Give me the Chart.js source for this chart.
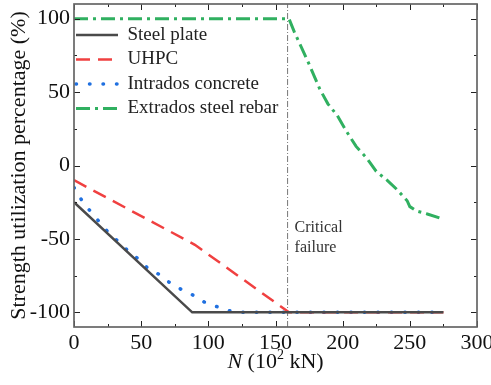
<!DOCTYPE html>
<html>
<head>
<meta charset="utf-8">
<script src="https://cdn.jsdelivr.net/npm/chart.js@4.4.1/dist/chart.umd.min.js"></script>
<style>
  html, body { margin: 0; padding: 0; background: #fff; }
  #wrap { width: 491px; height: 385px; position: relative; }
</style>
</head>
<body>
<div id="wrap"><canvas id="strengthChart"></canvas></div>
<script>
// ── Data ────────────────────────────────────────────────────
const xTickValues = [0, 50, 100, 150, 200, 250, 300];
const yTickValues = [-100, -50, 0, 50, 100];

const nSteel = [0, 88, 275];
const steelPlate = [-25, -100, -100];

const nUhpc = [0, 90, 160, 275];
const uhpc = [-10, -54, -100, -100];

const nIntrados = [0, 6, 12, 25, 32, 39, 47, 55, 63, 70, 79, 88, 97, 106, 116, 125, 275];
const intrados = [-15, -24, -31, -45, -51, -57, -63, -70, -74, -79, -84, -88, -93, -96, -99, -100, -100];

const nExtrados = [0, 160, 164, 168, 175, 183, 189, 196, 203, 210, 218, 225, 233, 240, 248, 250, 255, 263, 273];
const extrados = [100, 100, 91, 83, 69, 52, 42, 34, 23, 13, 5, -4, -10, -16, -24, -28, -31, -33, -36];

const nCritical = [159, 159];
const critical = [-110, 110];

const SERIF = '"Liberation Serif", "Times New Roman", serif';

const pts = (xs, ys) => xs.map((x, i) => ({ x: x, y: ys[i] }));

// frame + inward ticks on all four sides, like the Origin plot
const frameTicks = {
    id: 'frameTicks',
    afterDraw(chart) {
        const { ctx, chartArea: a, scales: { x, y } } = chart;
        ctx.save();
        ctx.strokeStyle = '#222';
        ctx.lineWidth = 1;
        const major = 6, minor = 3;
        for (let v = 0; v <= 300; v += 25) {
            const px = Math.round(x.getPixelForValue(v)) + 0.5;
            const len = v % 50 === 0 ? major : minor;
            ctx.beginPath();
            ctx.moveTo(px, a.bottom); ctx.lineTo(px, a.bottom - len);
            ctx.moveTo(px, a.top); ctx.lineTo(px, a.top + len);
            ctx.stroke();
        }
        for (let v = -100; v <= 100; v += 25) {
            const py = Math.round(y.getPixelForValue(v)) + 0.5;
            const len = v % 50 === 0 ? major : minor;
            ctx.beginPath();
            ctx.moveTo(a.left, py); ctx.lineTo(a.left + len, py);
            ctx.moveTo(a.right, py); ctx.lineTo(a.right - len, py);
            ctx.stroke();
        }
        ctx.strokeStyle = '#666';
        ctx.lineWidth = 1.7;
        ctx.strokeRect(a.left, a.top, a.right - a.left, a.bottom - a.top);

        // annotation next to the critical line
        ctx.fillStyle = '#333';
        ctx.font = '16px ' + SERIF;
        ctx.textBaseline = 'alphabetic';
        const cx = x.getPixelForValue(159) + 7;
        ctx.fillText('Critical', cx, 232);
        ctx.fillText('failure', cx, 252);

        // x title with italic N and superscript
        const mid = (a.left + a.right) / 2;
        const base = 368;
        const parts = [
            { t: 'N', f: 'italic 22px ' + SERIF, dy: 0 },
            { t: ' (10', f: '22px ' + SERIF, dy: 0 },
            { t: '2', f: '14px ' + SERIF, dy: -9 },
            { t: ' kN)', f: '22px ' + SERIF, dy: 0 }
        ];
        let total = 0;
        parts.forEach(p => { ctx.font = p.f; p.w = ctx.measureText(p.t).width; total += p.w; });
        let cur = mid - total / 2;
        ctx.fillStyle = '#111';
        parts.forEach(p => { ctx.font = p.f; ctx.fillText(p.t, cur, base + p.dy); cur += p.w; });
        ctx.restore();
    }
};

// put the legend in the upper left corner of the plot
const legendPlace = {
    id: 'legendPlace',
    afterLayout(chart) {
        const lg = chart.legend;
        if (!lg) return;
        lg.left = 70.5;
        lg.top = 20;
        lg.right = lg.left + 260;
        lg.bottom = lg.top + 200;
    }
};

new Chart(document.getElementById('strengthChart'), {
    type: 'line',
    data: {
        datasets: [
            {
                label: 'Steel plate',
                data: pts(nSteel, steelPlate),
                borderColor: '#4a4a4a',
                borderWidth: 2.5
            },
            {
                label: 'UHPC',
                data: pts(nUhpc, uhpc),
                borderColor: '#f04040',
                borderWidth: 2.5,
                borderDash: [14, 8]
            },
            {
                label: 'Intrados concrete',
                data: pts(nIntrados, intrados),
                borderColor: '#2070e0',
                borderWidth: 3.5,
                borderDash: [0.5, 13],
                borderCapStyle: 'round'
            },
            {
                label: 'Extrados steel rebar',
                data: pts(nExtrados, extrados),
                borderColor: '#30b060',
                borderWidth: 3,
                borderDash: [14, 5, 3, 5]
            },
            {
                label: 'critical',
                data: pts(nCritical, critical),
                borderColor: '#555',
                borderWidth: 0.8,
                borderDash: [6, 2, 1, 2]
            }
        ]
    },
    options: {
        responsive: true,
        maintainAspectRatio: false,
        animation: false,
        elements: { point: { radius: 0 }, line: { tension: 0 } },
        layout: { padding: { top: 4, right: 14, left: 0, bottom: 0 } },
        plugins: {
            tooltip: { enabled: false },
            legend: {
                position: 'chartArea',
                align: 'start',
                labels: {
                    usePointStyle: true,
                    pointStyle: 'line',
                    pointStyleWidth: 42,
                    padding: 5.5,
                    color: '#222',
                    font: { family: SERIF, size: 19 },
                    filter: (item) => item.text !== 'critical',
                    generateLabels: (chart) => {
                        const items = Chart.defaults.plugins.legend.labels.generateLabels(chart);
                        items.forEach(it => {
                            const ds = chart.data.datasets[it.datasetIndex];
                            it.lineDash = ds.borderDash || [];
                            it.lineWidth = ds.borderWidth;
                            it.strokeStyle = ds.borderColor;
                            it.lineCap = ds.borderCapStyle || 'butt';
                        });
                        return items;
                    }
                }
            }
        },
        scales: {
            x: {
                type: 'linear',
                min: 0,
                max: 300,
                afterBuildTicks: (s) => { s.ticks = xTickValues.map(v => ({ value: v })); },
                afterFit: (s) => { s.height = 58; s.paddingLeft = 0; s.paddingRight = 0; },
                grid: { display: false, drawTicks: false },
                border: { display: false },
                ticks: {
                    padding: 3,
                    color: '#111',
                    maxRotation: 0,
                    font: { family: SERIF, size: 22 }
                }
            },
            y: {
                min: -110,
                max: 110,
                afterBuildTicks: (s) => { s.ticks = yTickValues.map(v => ({ value: v })); },
                afterFit: (s) => { s.width = 74; s.paddingTop = 0; s.paddingBottom = 0; },
                grid: { display: false, drawTicks: false },
                border: { display: false },
                ticks: {
                    padding: 4,
                    color: '#111',
                    font: { family: SERIF, size: 22 }
                },
                title: {
                    display: true,
                    text: 'Strength utilization percentage (%)',
                    color: '#111',
                    font: { family: SERIF, size: 22 },
                    padding: { top: 6, bottom: 0 }
                }
            }
        }
    },
    plugins: [frameTicks, legendPlace]
});
</script>
</body>
</html>
